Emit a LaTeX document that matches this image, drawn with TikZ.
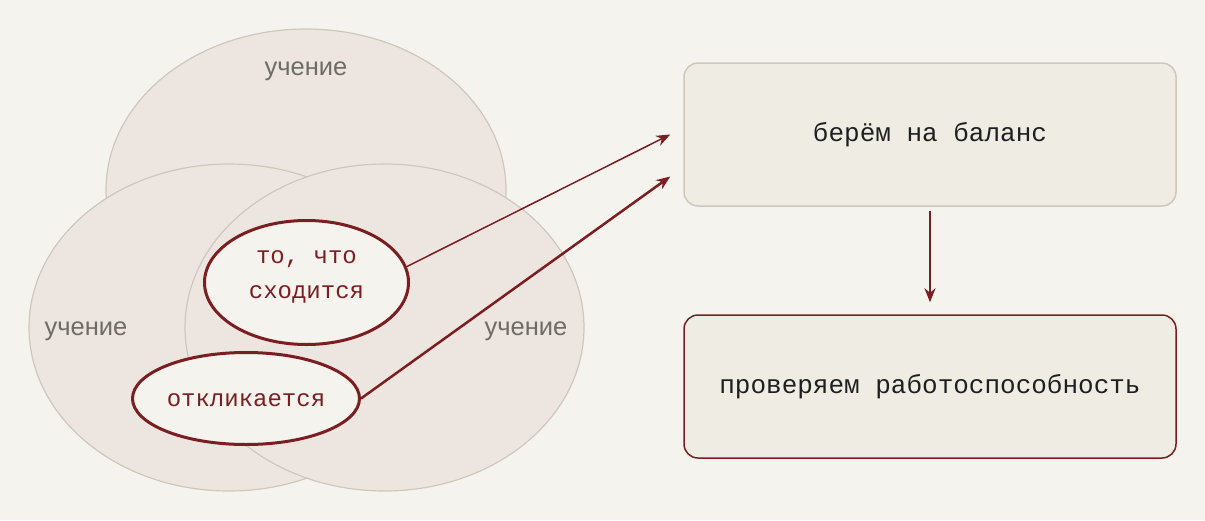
\documentclass[tikz,border=0pt]{standalone}
\usepackage{fontspec}
\setmainfont{Liberation Sans}
\newfontfamily\codefont{Liberation Mono}
\usetikzlibrary{shapes.geometric,arrows.meta}
\definecolor{paper}{HTML}{F5F3EE}
\definecolor{setfill}{HTML}{EDE6E0}
\definecolor{setline}{HTML}{CFC7BE}
\definecolor{boxfill}{HTML}{EFECE4}
\definecolor{wine}{HTML}{7A1E22}
\definecolor{greytext}{HTML}{6F6B65}
\tikzset{
  setellipse/.style={ellipse,fill=setfill,draw=setline,line width=1.2pt,inner sep=0pt},
  setlabel/.style={font=\fontsize{25.5}{28}\selectfont,text=greytext},
  hotellipse/.style={ellipse,fill=paper,draw=wine,line width=3pt,inner sep=0pt},
  hottext/.style={font=\codefont\fontsize{24}{35}\selectfont,text=wine,align=center,inner sep=0pt},
  stagebox/.style={rectangle,rounded corners=14pt,fill=boxfill,line width=1.5pt,
    minimum width=492pt,minimum height=143pt,font=\codefont\fontsize{26}{30}\selectfont,text=black!88},
  flow/.style={-{Stealth[length=14pt,width=11pt]},draw=wine}
}
\begin{document}
\begin{tikzpicture}[x=1pt,y=-1pt]
		\fill[paper] (0,0) rectangle (1205,520);
		\useasboundingbox (0,0) rectangle (1205,520);
		% three overlapping sets
		\node[setellipse,minimum width=400pt,minimum height=322pt] (top) at (306,190) {};
		\node[setellipse,minimum width=400pt,minimum height=327pt] (left) at (229,327.5) {};
		\node[setellipse,minimum width=399pt,minimum height=327pt] (right) at (384.5,327.5) {};
		\node[setlabel] (toplab) at (306,71) {учение};
		\node[setlabel] (leftlab) at (86,331) {учение};
		\node[setlabel] (rightlab) at (526,331) {учение};
		% what stands out
		\node[hotellipse,minimum width=204pt,minimum height=124pt] (conv) at (306.5,282.5) {};
		\node[hottext] (convtext) at (306.5,276.5) {то, что\\сходится};
		\node[hotellipse,minimum width=227pt,minimum height=92pt] (resp) at (246,398.5) {};
		\node[hottext] (resptext) at (246,400) {откликается};
		% the two stages
		\node[stagebox,draw=setline] (bal) at (930,134.5) {берём на баланс};
		\node[stagebox,draw=wine] (chk) at (930,386.5) {проверяем работоспособность};
		\coordinate (in1) at ([xshift=-13pt]bal.west);
		\coordinate (in2) at ([xshift=-13pt,yshift=-42pt]bal.west);
		\draw[flow,line width=1.5pt] (conv.9) -- (in1);
		\draw[flow,line width=2.5pt] (resp.east) -- (in2);
		\draw[flow,line width=2.5pt] ([yshift=-4pt]bal.south) -- ([yshift=12pt]chk.north);
		
		\end{tikzpicture}
\end{document}
